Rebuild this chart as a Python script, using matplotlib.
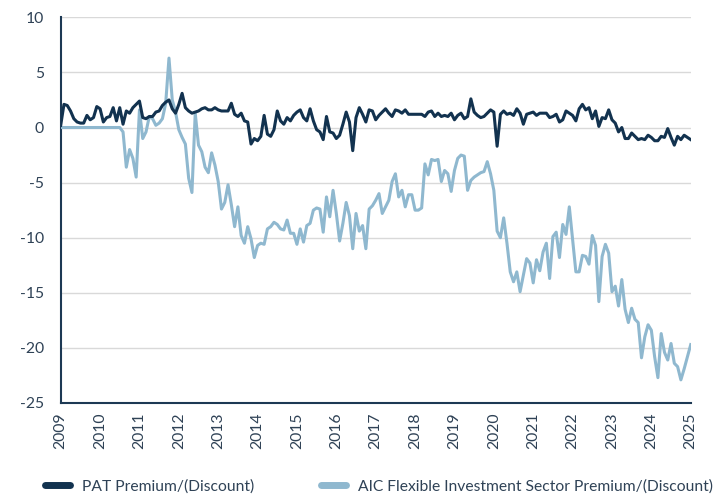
import numpy as np
import matplotlib
matplotlib.use("Agg")
import matplotlib.pyplot as plt

# Monthly observations, Jan 2009 .. Jan 2025
start_year = 2009
pat = [
    0.2, 2.1, 2.0, 1.5, 0.8, 0.5, 0.4, 0.4, 1.1, 0.7, 0.9, 1.9,   # 2009
    1.7, 0.5, 0.9, 1.0, 1.8, 0.6, 1.8, 0.3, 1.5, 1.3, 1.8, 2.1,   # 2010
    2.4, 0.9, 0.8, 1.0, 1.0, 1.4, 1.5, 2.0, 2.3, 2.5, 1.7, 1.3,   # 2011
    2.1, 3.1, 1.8, 1.5, 1.3, 1.4, 1.5, 1.7, 1.8, 1.6, 1.6, 1.8,   # 2012
    1.6, 1.5, 1.5, 1.5, 2.2, 1.2, 1.0, 1.3, 0.6, 0.5, -1.5, -1.0, # 2013
    -1.2, -0.8, 1.1, -0.6, -0.8, -0.2, 1.5, 0.6, 0.3, 0.9, 0.6, 1.1,  # 2014
    1.4, 1.6, 0.9, 0.6, 1.7, 0.6, -0.2, -0.4, -1.1, 1.0, -0.4, -0.5,  # 2015
    -1.0, -0.7, 0.3, 1.4, 0.5, -2.1, 0.9, 1.8, 1.2, 0.5, 1.6, 1.5,    # 2016
    0.7, 1.1, 1.4, 1.7, 1.3, 1.0, 1.6, 1.5, 1.3, 1.6, 1.2, 1.2,   # 2017
    1.2, 1.2, 1.2, 1.0, 1.4, 1.5, 1.0, 1.3, 1.0, 1.1, 1.0, 1.3,   # 2018
    0.7, 1.1, 1.3, 0.8, 1.0, 2.6, 1.4, 1.1, 0.9, 1.0, 1.3, 1.6,   # 2019
    1.4, -1.7, 1.2, 1.5, 1.2, 1.3, 1.1, 1.7, 1.3, 0.3, 1.2, 1.3,  # 2020
    1.4, 1.1, 1.3, 1.3, 1.3, 0.9, 1.0, 1.2, 0.5, 0.7, 1.5, 1.3,   # 2021
    1.1, 0.6, 1.7, 2.1, 1.6, 1.8, 0.8, 1.5, 0.1, 0.9, 0.8, 1.6,   # 2022
    0.7, 0.4, -0.4, 0.0, -1.0, -1.0, -0.5, -0.8, -1.1, -1.0, -1.1, -0.7,  # 2023
    -0.9, -1.2, -1.2, -0.8, -0.9, -0.1, -0.9, -1.6, -0.8, -1.1, -0.7, -0.9,  # 2024
    -1.1,                                                          # 2025
]
aic = [
    0.0, 0.0, 0.0, 0.0, 0.0, 0.0, 0.0, 0.0, 0.0, 0.0, 0.0, 0.0,   # 2009
    0.0, 0.0, 0.0, 0.0, 0.0, 0.0, 0.0, -0.4, -3.6, -2.0, -2.8, -4.5,  # 2010
    1.6, -1.0, -0.4, 1.0, 0.8, 0.2, 0.4, 0.8, 2.2, 6.3, 2.5, 1.4,     # 2011
    -0.2, -0.9, -1.5, -4.6, -5.9, 1.3, -1.6, -2.2, -3.6, -4.1, -2.3, -3.4,  # 2012
    -4.9, -7.4, -6.8, -5.2, -7.0, -9.0, -7.2, -9.8, -10.5, -9.0, -10.1, -11.8,  # 2013
    -10.7, -10.5, -10.6, -9.2, -9.0, -8.6, -8.8, -9.2, -9.3, -8.4, -9.6, -9.6,  # 2014
    -10.6, -9.2, -10.4, -8.9, -8.7, -7.5, -7.3, -7.4, -9.5, -6.3, -8.1, -5.7,   # 2015
    -7.8, -10.3, -8.7, -6.8, -8.0, -11.0, -7.8, -9.4, -8.9, -11.0, -7.4, -7.1,  # 2016
    -6.6, -6.0, -7.8, -7.2, -6.6, -4.9, -4.2, -6.3, -5.7, -7.2, -6.1, -6.1,     # 2017
    -7.5, -7.5, -7.3, -3.3, -4.3, -2.9, -3.0, -2.9, -4.9, -3.9, -4.2, -5.8,     # 2018
    -3.9, -2.8, -2.5, -2.6, -5.7, -4.8, -4.5, -4.3, -4.1, -4.0, -3.1, -4.2,     # 2019
    -5.7, -9.4, -10.0, -8.2, -10.5, -13.1, -14.0, -13.1, -14.9, -13.4, -11.9, -12.3,  # 2020
    -14.1, -12.0, -13.0, -11.3, -10.5, -13.7, -9.9, -9.5, -11.8, -8.8, -9.7, -7.2,    # 2021
    -10.2, -13.1, -13.1, -11.6, -11.7, -12.4, -9.8, -10.7, -15.8, -11.7, -10.6, -11.4,  # 2022
    -14.9, -14.4, -16.2, -13.8, -16.5, -17.7, -16.4, -17.4, -17.7, -20.9, -19.0, -17.9,  # 2023
    -18.4, -20.8, -22.7, -18.7, -20.4, -21.1, -19.6, -21.4, -21.7, -22.9, -21.9, -20.8,  # 2024
    -19.7,                                                                               # 2025
]
series_labels = ["PAT Premium/(Discount)", "AIC Flexible Investment Sector Premium/(Discount)"]
year_ticks = list(range(2009, 2026))
y_ticks = [10, 5, 0, -5, -10, -15, -20, -25]

dark = "#12324f"
light = "#8fb8cf"
text_c = "#2f4256"

plt.rcParams['font.family'] = ['Lato', 'DejaVu Sans']

fig = plt.figure(figsize=(7.14, 4.99), dpi=100)
ax = fig.add_axes([0.085, 0.1924, 0.8824, 0.7729])

x = start_year + np.arange(len(pat)) / 12.0
ax.plot(x, aic, color=light, lw=2.2, label=series_labels[1], solid_joinstyle='round', zorder=3)
ax.plot(x, pat, color=dark, lw=2.2, label=series_labels[0], solid_joinstyle='round', zorder=4)

ax.set_xlim(2009, 2025)
ax.set_ylim(-25, 10)
ax.set_xticks(year_ticks)
ax.set_xticklabels([str(y) for y in year_ticks], rotation=90)
ax.set_yticks(y_ticks)
ax.set_yticklabels([str(v) for v in y_ticks])
ax.tick_params(axis='both', length=0, labelsize=11.3, colors=text_c)
ax.tick_params(axis='y', pad=12)
ax.tick_params(axis='x', pad=7)

ax.grid(axis='y', color='#d9d9d9', lw=1.0, zorder=0)
ax.set_axisbelow(True)
for s in ['top', 'right']:
    ax.spines[s].set_visible(False)
for s in ['left', 'bottom']:
    ax.spines[s].set_color('#1d3954')
    ax.spines[s].set_linewidth(1.5)

handles, labels = ax.get_legend_handles_labels()
order = [1, 0]
leg = fig.legend([handles[i] for i in order], [labels[i] for i in order],
                 loc='center', bbox_to_anchor=(0.531, 0.025), ncol=2, frameon=False,
                 fontsize=11.25, handlelength=1.6, columnspacing=4.3, handletextpad=0.75)
for t in leg.get_texts():
    t.set_color(text_c)
for h in leg.get_lines():
    h.set_linewidth(5)
    h.set_solid_capstyle('round')

fig.savefig("out.png", dpi=100)
